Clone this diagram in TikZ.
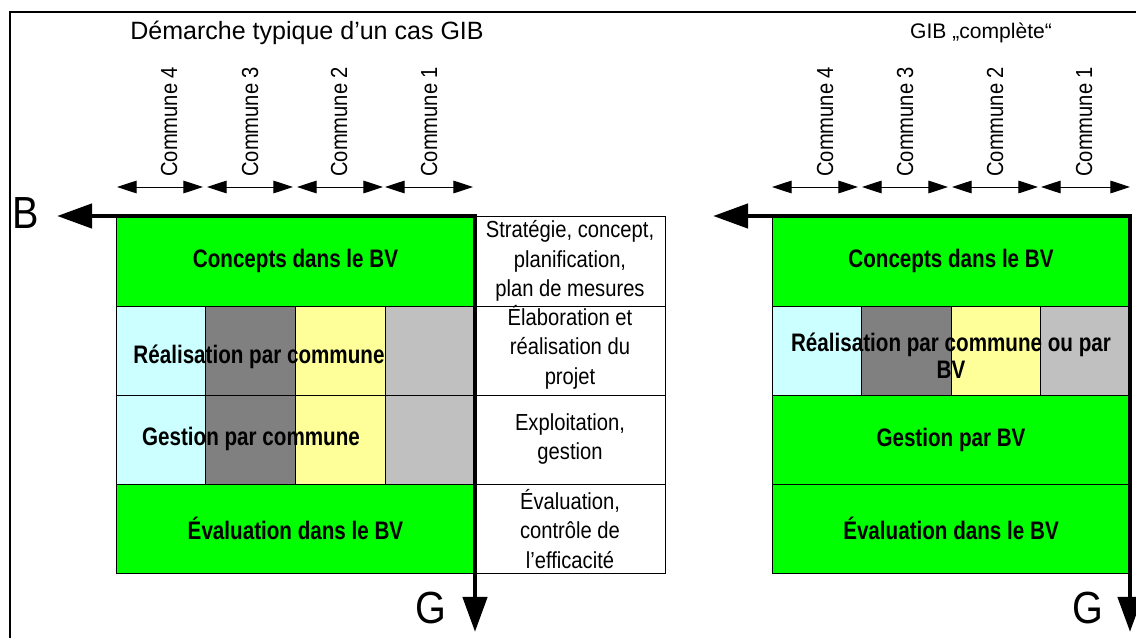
\documentclass[tikz,border=0pt]{standalone}
\usepackage{fontspec}
\setmainfont{Liberation Sans}
\newfontfamily\narrowfont[FakeStretch=0.87]{Liberation Sans}
\newfontfamily\boldnarrow[FakeStretch=0.815]{Liberation Sans}
\newfontfamily\letterfont[FakeStretch=0.88]{Liberation Sans}
\usetikzlibrary{arrows.meta}

\definecolor{bvgreen}{HTML}{00FF00}
\definecolor{comcyan}{HTML}{CCFFFF}
\definecolor{comgray}{HTML}{808080}
\definecolor{comyellow}{HTML}{FFFF99}
\definecolor{comsilver}{HTML}{C0C0C0}

\tikzset{
  field/.style={draw=black, line width=0.7pt},
  bvtext/.style={font=\boldnarrow\bfseries\fontsize{18}{20}\selectfont, inner sep=0pt, align=center},
  phasetext/.style={font=\narrowfont\fontsize{16.5}{21}\selectfont, align=center, inner sep=0pt},
  communetext/.style={font=\narrowfont\fontsize{16.5}{20}\selectfont, rotate=90, anchor=base west, inner sep=0pt},
  communearrow/.style={{Triangle[length=14pt,width=9pt]}-{Triangle[length=14pt,width=9pt]}, line width=0.7pt},
  axis/.style={{Triangle[length=25pt,width=17pt]}-{Triangle[length=25pt,width=17pt]}, line width=3.5pt},
  axislabel/.style={font=\letterfont\fontsize{32}{34}\selectfont, inner sep=0pt},
  titletext/.style={inner sep=0pt}
}

\begin{document}
\begin{tikzpicture}[x=0.025cm, y=-0.025cm]
    \useasboundingbox (0,0) rectangle (1136,637);

    % frame
    \draw[line width=1.5pt] (10,640) -- (10,12) -- (1140,12);

    % left: typical case
    \node[titletext, font=\fontsize{17.8}{20}\selectfont] (Ltitle) at (307,33) {Démarche typique d’un cas GIB};

    \foreach \xa/\xb/\base/\n in {117/203/177/4, 207/293/258/3, 297/383/347/2, 385/473/437/1} {
        \coordinate (L\n a) at (\xa,187);
        \coordinate (L\n b) at (\xb,187);
        \draw[communearrow] (L\n a) -- (L\n b);
        \node[communetext] (Lcom\n) at (\base,177) {Commune \n};
    }

    \draw[field, fill=bvgreen] (116,216) rectangle (475,306);
    \foreach \xa/\xb/\col in {116/205/comcyan, 205/295/comgray, 295/385/comyellow, 385/475/comsilver} {
        \draw[field, fill=\col] (\xa,306) rectangle (\xb,395);
        \draw[field, fill=\col] (\xa,395) rectangle (\xb,484);
    }
    \draw[field, fill=bvgreen] (116,484) rectangle (475,573);

    \node[bvtext] (Lconcepts) at (295.5,261) {Concepts dans le BV};
    \node[bvtext] (Lrealisation) at (259,357) {Réalisation par commune};
    \node[bvtext] (Lgestion) at (251,439) {Gestion par commune};
    \node[bvtext] (Levaluation) at (295.5,528) {Évaluation dans le BV};

    % phases
    \foreach \ya/\yb in {216/306, 306/395, 395/484, 484/573}
        \draw[field] (475,\ya) rectangle (665,\yb);
    \node[phasetext] (Pstrategie) at (570,261) {Stratégie, concept,\\planification,\\plan de mesures};
    \node[phasetext] (Pelaboration) at (570,347) {Élaboration et\\réalisation du\\projet};
    \node[phasetext] (Pexploitation) at (570,439) {Exploitation,\\gestion};
    \node[phasetext] (Pevaluation) at (570,529) {Évaluation,\\contrôle de\\l’efficacité};

    \coordinate (LtipB) at (57,216);
    \coordinate (Lcorner) at (475,216);
    \coordinate (LtipG) at (475,632);
    \draw[axis] (LtipB) -- (Lcorner) -- (LtipG);
    \node[axislabel] (LB) at (25.5,213) {B};
    \node[axislabel] (LG) at (431,608) {G};

    % right: complete GIB
    \node[titletext, font=\fontsize{15}{17}\selectfont] (Rtitle) at (981,33) {GIB „complète“};

    \foreach \xa/\xb/\base/\n in {772/858/833/4, 862/948/913/3, 952/1038/1003/2, 1041/1130/1092/1} {
        \coordinate (R\n a) at (\xa,187);
        \coordinate (R\n b) at (\xb,187);
        \draw[communearrow] (R\n a) -- (R\n b);
        \node[communetext] (Rcom\n) at (\base,177) {Commune \n};
    }

    \draw[field, fill=bvgreen] (772,216) rectangle (1130,306);
    \foreach \xa/\xb/\col in {772/861/comcyan, 861/951/comgray, 951/1040/comyellow, 1040/1130/comsilver}
        \draw[field, fill=\col] (\xa,306) rectangle (\xb,395);
    \draw[field, fill=bvgreen] (772,395) rectangle (1130,484);
    \draw[field, fill=bvgreen] (772,484) rectangle (1130,573);

    \node[bvtext] (Rconcepts) at (951,261) {Concepts dans le BV};
    \node[bvtext] (Rrealisation) at (951,356) {Réalisation par commune ou par\\[-1pt]BV};
    \node[bvtext] (Rgestion) at (951,440) {Gestion par BV};
    \node[bvtext] (Revaluation) at (951,528) {Évaluation dans le BV};

    \coordinate (RtipB) at (713,216);
    \coordinate (Rcorner) at (1130,216);
    \coordinate (RtipG) at (1130,632);
    \draw[axis] (RtipB) -- (Rcorner) -- (RtipG);
    \node[axislabel] (RG) at (1088,608) {G};

\end{tikzpicture}
\end{document}
